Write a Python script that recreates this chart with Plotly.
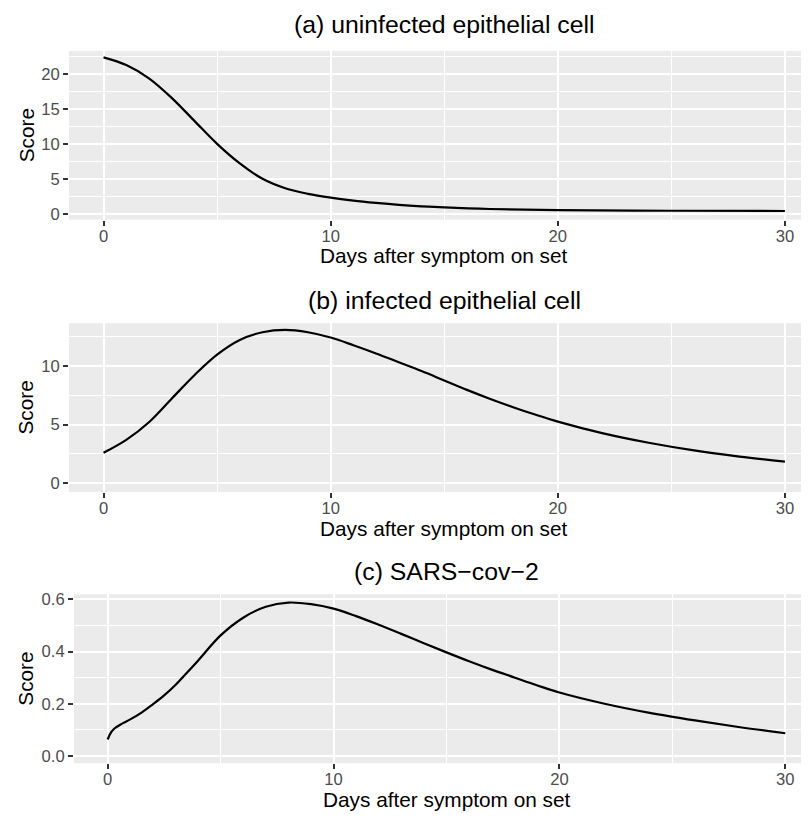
import plotly.graph_objects as go

# ---- data ----
days_a = [0, 1, 2, 3, 4, 5, 6, 7, 8, 9, 10, 11, 12, 13, 14, 15, 17, 20, 25, 30]
score_a = [22.4, 21.3, 19.4, 16.6, 13.3, 10.0, 7.2, 5.0, 3.65, 2.85, 2.3, 1.88, 1.55, 1.27,
           1.06, 0.9, 0.67, 0.5, 0.42, 0.39]

days_b = [0, 1, 2, 3, 4, 5, 6, 7, 8, 9, 10, 11, 12, 13, 14, 15, 16, 17, 18, 19, 20,
          22, 24, 26, 28, 30]
score_b = [2.6, 3.7, 5.2, 7.2, 9.2, 10.95, 12.2, 12.85, 13.05, 12.85, 12.4, 11.75, 11.05,
           10.3, 9.55, 8.75, 7.95, 7.2, 6.5, 5.85, 5.25, 4.25, 3.45, 2.8, 2.28, 1.85]

days_c = [0, 0.15, 0.3, 0.6, 1, 1.5, 2, 2.5, 3, 3.5, 4, 5, 6, 7, 8, 9, 10, 11, 12, 13, 14,
          15, 16, 17, 18, 19, 20, 22, 24, 26, 28, 30]
score_c = [0.063, 0.09, 0.105, 0.122, 0.14, 0.166, 0.198, 0.232, 0.272, 0.318, 0.365, 0.462,
           0.53, 0.572, 0.588, 0.582, 0.565, 0.536, 0.503, 0.468, 0.432, 0.397, 0.363, 0.331,
           0.301, 0.271, 0.243, 0.2, 0.165, 0.136, 0.11, 0.087]

titles = ["(a) uninfected epithelial cell", "(b) infected epithelial cell", "(c) SARS\u2212cov\u22122"]
x_title = "Days after symptom on set"
y_title = "Score"
x_ticks = [0, 10, 20, 30]
y_ticks = [[0, 5, 10, 15, 20], [0, 5, 10], [0.0, 0.2, 0.4, 0.6]]

# the page body has an 8px margin: work in page pixels and shift
OFF = 8
PAGE_W, PAGE_H = 809, 821
W, H = PAGE_W - OFF, PAGE_H - OFF
FONT = "Liberation Sans, Arial, Helvetica, sans-serif"
PANEL_BG = "#EBEBEB"


def fx(px):
    return (px - OFF) / W


def fy(py):
    return 1 - (py - OFF) / H


# panel geometry in page pixels (left, top, bottom)
panels = [
    dict(left=69, top=47.3, bottom=217.7, xr=[-1.52, 31.06], yr=[-0.85, 23.32], minor=2.5, fmt=False),
    dict(left=69, top=322.3, bottom=492.7, xr=[-1.52, 31.06], yr=[-0.73, 13.62], minor=2.5, fmt=False),
    dict(left=74, top=596.0, bottom=766.7, xr=[-1.49, 31.05], yr=[-0.028, 0.62], minor=0.1, fmt=True),
]
title_y = [21.0, 299.5, 573.0]

series = [(days_a, score_a), (days_b, score_b), (days_c, score_c)]

fig = go.Figure()
layout = dict(
    width=W, height=H,
    margin=dict(l=0, r=0, t=0, b=0),
    paper_bgcolor="white",
    plot_bgcolor=PANEL_BG,
    showlegend=False,
    font=dict(family=FONT, color="black"),
)

annotations = []
for i, (p, (xs, ys)) in enumerate(zip(panels, series)):
    n = "" if i == 0 else str(i + 1)
    fig.add_trace(go.Scatter(
        x=xs, y=ys, mode="lines",
        line=dict(color="black", width=2.2, shape="spline", smoothing=1.0),
        xaxis="x" + n, yaxis="y" + n, hoverinfo="skip",
    ))
    layout["xaxis" + n] = dict(
        domain=[fx(p["left"]), 1.0], range=p["xr"], anchor="y" + n,
        tickmode="array", tickvals=x_ticks,
        ticks="outside", ticklen=5, tickwidth=2, tickcolor="#333333",
        ticklabelstandoff=-4,
        tickfont=dict(size=16.6, color="#4D4D4D", family=FONT),
        showgrid=True, gridcolor="white", gridwidth=2,
        minor=dict(dtick=5, tick0=0, showgrid=True, gridcolor="white", gridwidth=1, ticks=""),
        zeroline=False, showline=False, fixedrange=True,
    )
    layout["yaxis" + n] = dict(
        domain=[fy(p["bottom"]), fy(p["top"])], range=p["yr"], anchor="x" + n,
        tickmode="array", tickvals=y_ticks[i],
        ticktext=[(f"{v:.1f}" if p["fmt"] else f"{v:g}") for v in y_ticks[i]],
        ticks="outside", ticklen=5, tickwidth=2, tickcolor="#333333",
        tickfont=dict(size=16.6, color="#4D4D4D", family=FONT),
        showgrid=True, gridcolor="white", gridwidth=2,
        minor=dict(dtick=p["minor"], tick0=0, showgrid=True, gridcolor="white", gridwidth=1, ticks=""),
        zeroline=False, showline=False, fixedrange=True,
    )
    full_right = 819.0
    cx = fx((p["left"] + full_right) / 2)
    annotations.append(dict(
        text=titles[i], xref="paper", yref="paper", x=cx, y=fy(title_y[i]),
        xanchor="center", yanchor="middle", showarrow=False,
        font=dict(size=24.8, color="black", family=FONT),
    ))
    annotations.append(dict(
        text=x_title, xref="paper", yref="paper", x=cx, y=fy(p["bottom"] + 36.5),
        xanchor="center", yanchor="middle", showarrow=False,
        font=dict(size=20.8, color="black", family=FONT),
    ))
    annotations.append(dict(
        text=y_title, xref="paper", yref="paper", x=fx(26.0),
        y=fy((p["top"] + p["bottom"]) / 2),
        xanchor="center", yanchor="middle", textangle=-90, showarrow=False,
        font=dict(size=20.8, color="black", family=FONT),
    ))

layout["annotations"] = annotations
fig.update_layout(**layout)
fig.write_html("out.html", config={"displayModeBar": False})
